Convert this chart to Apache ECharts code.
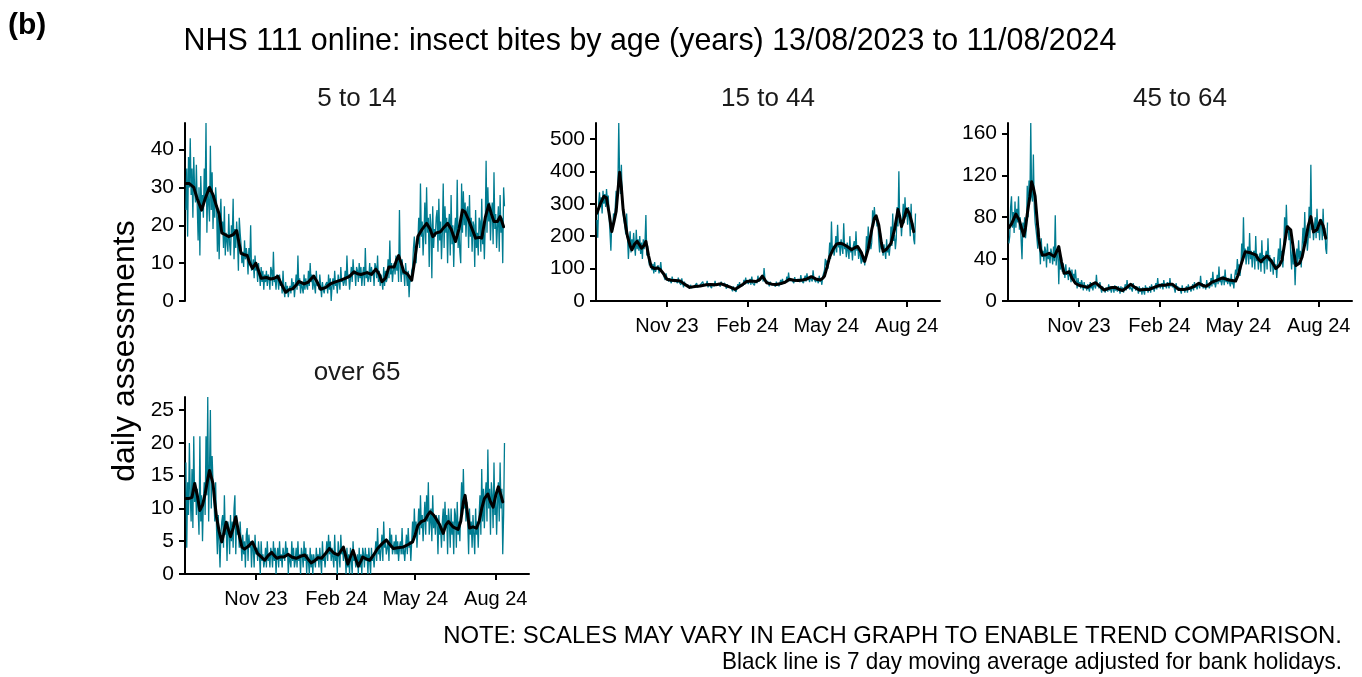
<!DOCTYPE html>
<html><head><meta charset="utf-8">
<script src="https://cdn.jsdelivr.net/npm/echarts@6/dist/echarts.min.js"></script>
<style>html,body{margin:0;padding:0;background:#fff}#c{width:1362px;height:677px}</style>
</head><body><div id="c"></div><script>
// ---- data ----
const panelTitles = ['5 to 14', '15 to 44', '45 to 64', 'over 65'];
const tickDays = [80, 172, 262, 354];          // day index from 13/08/2023 of 1 Nov, 1 Feb, 1 May, 1 Aug
const tickLabels = ['Nov 23', 'Feb 24', 'May 24', 'Aug 24'];
const yMax = [47, 549, 170, 27];
const yInterval = [10, 100, 40, 5];

const raw_5_14 = [
24,35,17,38,30,43,28, 35,22,38,29,26,36,25, 16,30,12,33,25,28,22, 35,27,47,18,30,26,21,
41,24,34,19,28,22,30, 26,13,24,11,22,27,18, 21,14,25,12,18,16,13, 23,15,12,20,17,27,11,
19,14,21,16,8,22,18, 15,10,13,9,16,11,14, 12,7,14,10,20,8,9, 11,6,12,8,9,5,10,
7,4,9,5,8,3,7, 5,8,4,7,6,3,9, 8,4,13,5,6,3,7, 6,3,7,4,5,2,8,
3,1,5,2,4,1,3, 4,2,6,3,5,1,4, 7,3,12,4,6,2,5, 5,2,7,3,6,4,3,
8,4,10,5,7,3,6, 6,2,8,4,5,3,7, 4,1,5,3,2,4,4, 5,2,7,3,6,0,4,
6,3,8,4,5,2,7, 7,3,9,5,6,4,5, 8,4,12,6,7,3,6, 9,5,11,7,8,4,9,
8,5,10,6,9,4,7, 9,4,14,6,8,5,6, 10,5,9,7,8,4,10, 9,6,12,5,8,4,7,
7,3,9,4,8,5,6, 11,6,16,7,10,5,8, 10,7,12,8,11,5,24, 9,5,11,7,8,4,10,
7,4,8,1,6,5,8, 9,14,17,12,10,16,15, 22,14,31,17,21,12,18, 26,15,30,18,22,9,23,
20,6,25,14,19,17,22, 24,13,27,16,21,11,18, 31,14,25,18,22,10,20, 23,12,28,15,20,9,19,
22,16,32,14,19,13,10, 31,18,29,20,26,17,24, 25,14,28,17,22,13,21, 20,9,24,14,18,12,22,
21,13,27,15,19,11,20, 37,18,30,21,26,16,23, 26,15,34,19,23,14,20, 25,13,28,18,22,10,30,
25];

const raw_15_44 = [
250,195,300,335,290,320,270, 340,300,330,290,345,310,325, 260,210,155,240,220,270,250, 290,340,300,350,549,380,330,
420,310,270,250,230,205,270, 200,130,180,215,150,190,160, 210,170,140,220,160,190,155, 200,145,180,130,190,160,185,
265,140,170,130,110,120,105, 95,115,85,120,90,100,95, 110,85,100,120,90,95,80, 80,65,85,70,75,60,70,
70,55,75,60,68,58,65, 65,55,72,58,62,50,70, 55,42,60,48,52,45,50, 48,38,50,40,45,35,44,
50,40,55,42,48,38,50, 55,45,60,48,52,42,50, 62,42,55,48,50,40,53, 56,45,62,48,54,44,55,
58,44,60,50,52,45,55, 50,38,52,42,48,40,45, 42,30,45,35,38,28,40, 52,40,58,45,50,42,48,
65,50,72,55,62,52,60, 68,50,75,55,60,48,64, 70,55,78,60,66,56,70, 80,60,102,68,72,55,62,
58,45,60,50,55,46,52, 58,44,60,48,55,45,54, 65,50,68,55,60,50,58, 75,58,88,62,68,56,64,
70,55,74,60,66,54,68, 72,58,80,62,68,55,70, 78,60,85,65,72,58,74, 80,60,95,68,74,58,70,
72,55,78,60,68,50,75, 85,95,130,110,125,100,135, 180,130,245,150,170,140,160, 200,150,235,165,180,140,190,
195,145,240,160,175,135,180, 180,130,200,150,165,125,170, 185,140,215,155,170,130,160, 140,115,150,120,135,110,140,
200,150,230,170,190,160,180, 280,230,290,250,265,230,245, 190,150,210,160,180,140,175, 180,130,190,150,165,140,170,
230,170,270,185,205,160,190, 290,230,400,240,255,200,250, 300,240,320,260,280,235,290, 260,200,300,220,240,190,175,
270];

const raw_45_64 = [
55,62,90,100,70,85,65, 95,70,88,75,100,68,80, 58,40,75,65,80,60,70, 110,80,115,95,170,100,95,
140,90,75,68,60,50,70, 55,35,60,42,48,38,52, 48,32,55,40,46,36,50, 45,35,52,38,82,34,45,
50,16,45,30,42,28,36, 30,22,35,25,28,20,32, 28,18,30,22,26,20,30, 20,12,22,15,18,12,20,
16,10,18,12,15,10,16, 15,9,18,12,16,10,17, 18,12,25,14,16,12,18, 12,8,14,10,12,8,13,
13,9,16,10,14,8,12, 14,8,15,10,13,9,14, 12,7,14,9,13,8,12, 16,10,20,12,15,11,14,
15,9,17,12,14,10,14, 12,7,14,9,12,6,13, 12,6,15,10,13,8,12, 14,8,16,11,13,9,14,
17,11,22,13,16,12,15, 17,11,20,14,16,12,18, 18,12,22,14,17,13,16, 15,8,17,12,14,10,13,
13,7,15,10,12,8,12, 14,8,16,11,13,9,12, 16,10,18,13,15,11,15, 18,12,24,14,17,12,16,
17,11,20,13,16,12,15, 22,14,28,16,19,13,18, 25,16,33,18,22,15,20, 24,15,30,18,22,16,22,
22,14,26,16,20,12,23, 30,25,40,28,35,24,32, 55,38,80,42,50,35,45, 52,35,65,40,48,32,45,
48,30,62,38,45,30,42, 46,28,58,36,44,26,42, 48,30,60,38,44,28,40, 38,25,42,30,35,22,38,
50,35,60,40,48,32,50, 80,60,92,65,72,58,68, 45,30,52,35,42,15,40, 50,35,58,40,48,32,52,
70,50,85,55,65,48,60, 90,60,130,68,75,58,70, 80,60,88,65,72,58,75, 78,58,88,62,70,50,45,
75];

const raw_over_65 = [
17,4,14,9,20,12,8, 16,7,21,11,14,9,13, 10,6,21,8,12,5,11, 14,9,21,12,27,8,16,
25,10,18,14,12,8,14, 7,3,9,5,1,6,8, 9,4,12,6,8,2,8, 7,3,9,5,8,4,10,
12,3,9,6,7,4,8, 5,2,6,3,5,1,6, 7,2,6,4,5,1,5, 4,1,6,3,4,2,5,
3,0,5,2,3,1,2, 4,1,5,2,3,1,4, 3,1,5,2,4,0,3, 4,1,5,2,3,1,4,
4,2,5,3,4,0,3, 3,1,5,2,4,1,2, 4,1,5,2,3,0,4, 3,1,5,2,4,0,3,
2,0,4,1,3,0,3, 3,1,4,2,3,1,4, 4,0,5,2,3,1,3, 5,2,6,3,5,2,4,
4,1,6,2,3,0,5, 5,1,6,3,4,2,4, 3,0,4,1,3,0,4, 4,0,5,2,3,1,2,
3,0,4,1,3,0,4, 3,1,4,2,3,0,4, 4,0,4,2,3,1,3, 5,2,7,3,4,2,4,
6,2,8,4,5,3,4, 5,2,7,4,6,3,4, 5,3,6,3,5,2,4, 5,3,7,3,4,2,4,
6,3,7,4,5,2,5, 8,5,10,6,8,4,7, 10,6,12,7,9,5,8, 11,6,12,8,14,6,8,
10,5,12,7,9,6,9, 8,3,9,6,7,4,8, 10,5,11,7,9,3,10, 8,4,10,6,8,3,10,
9,4,11,6,8,5,10, 14,9,16,10,12,8,11, 8,3,10,6,8,4,9, 9,3,10,6,8,4,9,
12,6,16,8,13,7,12, 14,8,19,10,13,6,14, 12,7,17,9,12,6,11, 14,8,17,10,13,3,9,
20];

// 7 day moving average as [day index, value]
const ma_5_14 = [[0,31],[4,31],[9,30],[13,27],[18,24],[22,27],[27,30],[31,28],[35,25],[38,23],[41,18],[45,17.5],[49,17],[54,17.5],[58,18.6],[63,12.6],[67,12.2],[70,12],[73,10],[76,8.6],[80,10],[83,8],[86,6],[92,6.2],[97,5.8],[101,6],[105,6.5],[109,4.5],[114,2.3],[118,3],[122,3.2],[126,4.2],[129,5.2],[135,4.5],[140,5],[146,6.6],[150,5],[154,3.1],[160,3.6],[165,4.5],[170,5],[177,5.5],[182,6],[187,6.5],[192,7.7],[196,7.2],[200,7],[207,7.5],[212,7],[217,8.4],[221,7],[224,5.1],[228,6],[232,9],[238,9],[241,11],[243,12],[246,10],[249,7.7],[253,7.2],[258,5.5],[261,10],[265,17],[270,19],[275,20.5],[279,19],[282,17],[286,18],[291,18.3],[295,19.5],[299,20.5],[303,19],[308,15.7],[312,19],[316,24],[319,23.5],[323,21.4],[327,19],[331,16.6],[335,16.8],[338,16.6],[342,22],[346,25.4],[349,23],[352,21],[356,21],[359,22.3],[361,21],[363,19.6]];
const ma_15_44 = [[0,271],[4,300],[8,323],[11,318],[14,270],[17,214],[20,250],[22,276],[24,340],[26,397],[28,350],[30,282],[33,230],[35,199],[38,170],[40,158],[43,175],[46,184],[49,172],[51,163],[54,172],[56,184],[59,140],[62,106],[66,100],[69,102],[72,98],[76,85],[80,67],[85,64],[90,63],[95,62],[100,52],[106,42],[112,45],[118,46],[125,50],[130,51],[136,50],[142,53],[148,47],[153,42],[158,36],[163,45],[167,52],[171,60],[176,62],[182,60],[186,66],[189,77],[192,65],[194,56],[200,52],[205,51],[209,53],[215,58],[220,67],[225,64],[230,63],[235,65],[240,68],[245,75],[250,68],[255,65],[258,70],[260,77],[263,105],[266,137],[270,160],[274,176],[278,178],[281,176],[286,168],[291,158],[295,165],[298,168],[302,150],[306,122],[310,160],[314,220],[317,255],[319,263],[322,235],[325,180],[327,153],[331,160],[336,178],[340,220],[344,282],[346,260],[348,230],[351,255],[354,284],[357,270],[360,240],[362,214]];
const ma_45_64 = [[0,70],[3,73.6],[8,83],[12,77],[15,68],[17,62],[19,70],[21,83],[24,100],[26,114],[28,108],[30,100],[32,80],[34,61],[36,50],[38,44],[42,44],[46,45.6],[49,44],[52,42.5],[55,48],[57,52],[60,38],[63,26.5],[66,27],[69,28],[72,22],[76,17],[80,15],[85,14],[90,13],[95,16],[99,17.5],[104,14],[109,10.5],[114,12],[118,13],[122,13],[126,11],[130,10],[135,13],[139,16],[144,13],[149,10.5],[155,11],[160,11],[166,13],[172,15],[178,15],[183,16],[187,16],[191,13],[194,11],[200,11],[206,12],[212,14],[217,17],[221,15],[225,14],[229,16],[232,18],[238,20],[244,22],[248,21],[251,20],[255,19.5],[259,19],[262,25],[265,34],[268,42],[270,47],[276,46],[282,44],[285,40],[288,37.6],[292,41],[295,43],[300,38],[305,31],[309,34],[312,39],[315,55],[318,71],[322,68],[325,50],[328,34],[332,36],[335,42],[339,58],[342,72],[345,80.6],[348,66],[352,68],[356,77],[359,72],[362,60]];
const ma_over_65 = [[0,11.5],[3,11.5],[7,11.7],[10,13.8],[13,12],[16,9.7],[19,10.5],[22,12.2],[25,14.5],[27,15.8],[29,15.5],[31,13.8],[33,11],[35,8.7],[38,6.5],[41,4.9],[43,6],[46,7.9],[48,7],[51,5.7],[54,7],[57,8.7],[60,6.5],[64,4.1],[67,3.8],[69,3.6],[72,4.3],[76,4.9],[79,4],[82,3.1],[86,2.6],[90,2.1],[94,2.8],[98,3.3],[101,2.8],[104,2.4],[108,2.6],[112,2.6],[117,3],[121,2.6],[126,2.4],[131,2.7],[136,2.9],[140,2.2],[143,1.7],[147,2],[151,2.5],[155,2.4],[160,3.2],[164,3.9],[169,3.2],[174,2.9],[180,4.1],[183,2.5],[185,1.5],[188,2.6],[191,3.6],[194,2.3],[197,1.2],[200,2],[202,2.6],[206,2.3],[210,2.1],[215,3],[219,3.9],[224,4.6],[229,5.2],[233,4.5],[237,3.9],[242,4],[248,4.1],[254,4.5],[259,4.9],[262,6],[265,7.4],[269,8],[273,8.2],[276,8.9],[279,9.5],[283,9],[286,8.4],[290,7.5],[294,6.2],[297,7.5],[300,8],[305,7.2],[311,6.8],[314,8],[317,11],[319,12],[321,10],[324,7],[328,7.2],[332,7],[335,8],[338,10],[341,11.5],[345,12.2],[348,11],[351,10.2],[354,12],[357,13.3],[360,12],[362,11]];

const rawSets = [raw_5_14, raw_15_44, raw_45_64, raw_over_65];
const maSets = [ma_5_14, ma_15_44, ma_45_64, ma_over_65];

// ---- layout / style ----
const TEAL = '#007C91';
const FONT = '"Liberation Sans", Arial, sans-serif';
const grids = [
  {left: 185, top: 123, width: 344, height: 178},
  {left: 596, top: 123, width: 344, height: 178},
  {left: 1008, top: 123, width: 344, height: 178},
  {left: 185, top: 397, width: 344, height: 177}
];

const xAxes = [], yAxes = [], series = [], graphics = [];
grids.forEach((g, i) => {
  const showX = i !== 0;
  xAxes.push({
    gridIndex: i, type: 'value', min: -1, max: 392,
    splitLine: {show: false},
    axisLine: {show: showX, onZero: false, lineStyle: {color: '#000', width: 2}},
    axisTick: {show: showX, customValues: tickDays, length: 6, lineStyle: {color: '#000', width: 2}},
    axisLabel: {show: showX, customValues: tickDays, margin: 15, fontSize: 20, color: '#000', fontFamily: FONT,
      formatter: v => tickLabels[tickDays.indexOf(v)]}
  });
  const yt = [];
  for (let v = 0; v <= yMax[i]; v += yInterval[i]) yt.push(v);
  yAxes.push({
    gridIndex: i, type: 'value', min: 0, max: yMax[i], interval: yInterval[i],
    splitLine: {show: false},
    axisLine: {show: true, onZero: false, lineStyle: {color: '#000', width: 2}},
    axisTick: {show: true, customValues: yt, length: 6, lineStyle: {color: '#000', width: 2}},
    axisLabel: {customValues: yt, margin: 11, fontSize: 21, color: '#000', fontFamily: FONT}
  });
  series.push({
    type: 'line', xAxisIndex: i, yAxisIndex: i, showSymbol: false, silent: true, z: 2,
    data: rawSets[i].map((v, d) => [d, v]),
    lineStyle: {color: TEAL, width: 1.3}
  });
  series.push({
    type: 'line', xAxisIndex: i, yAxisIndex: i, showSymbol: false, silent: true, z: 3,
    data: maSets[i],
    lineStyle: {color: '#000', width: 3, join: 'round', cap: 'round'}
  });
  graphics.push({type: 'text', x: g.left + g.width / 2, y: g.top - 24,
    style: {text: panelTitles[i], font: '26px ' + FONT, fill: '#1a1a1a', textAlign: 'center', textVerticalAlign: 'middle'}});
});

graphics.push(
  {type: 'text', x: 8, y: 26, style: {text: '(b)', font: 'bold 30px ' + FONT, fill: '#000', textAlign: 'left', textVerticalAlign: 'middle'}},
  {type: 'text', x: 650, y: 41, scaleX: 0.95, style: {text: 'NHS 111 online: insect bites by age (years) 13/08/2023 to 11/08/2024', font: '32px ' + FONT, fill: '#000', textAlign: 'center', textVerticalAlign: 'middle'}},
  {type: 'text', x: 125, y: 351, rotation: Math.PI / 2, style: {text: 'daily assessments', font: '32px ' + FONT, fill: '#000', textAlign: 'center', textVerticalAlign: 'middle'}},
  {type: 'text', x: 1342, y: 636, scaleX: 0.995, style: {text: 'NOTE: SCALES MAY VARY IN EACH GRAPH TO ENABLE TREND COMPARISON.', font: '24px ' + FONT, fill: '#000', textAlign: 'right', textVerticalAlign: 'middle'}},
  {type: 'text', x: 1342, y: 662, scaleX: 0.937, style: {text: 'Black line is 7 day moving average adjusted for bank holidays.', font: '24px ' + FONT, fill: '#000', textAlign: 'right', textVerticalAlign: 'middle'}}
);

const chart = echarts.init(document.getElementById('c'), null, {renderer: 'canvas'});
chart.setOption({
  backgroundColor: '#fff',
  animation: false,
  grid: grids,
  xAxis: xAxes,
  yAxis: yAxes,
  series: series,
  graphic: graphics
});
</script></body></html>
